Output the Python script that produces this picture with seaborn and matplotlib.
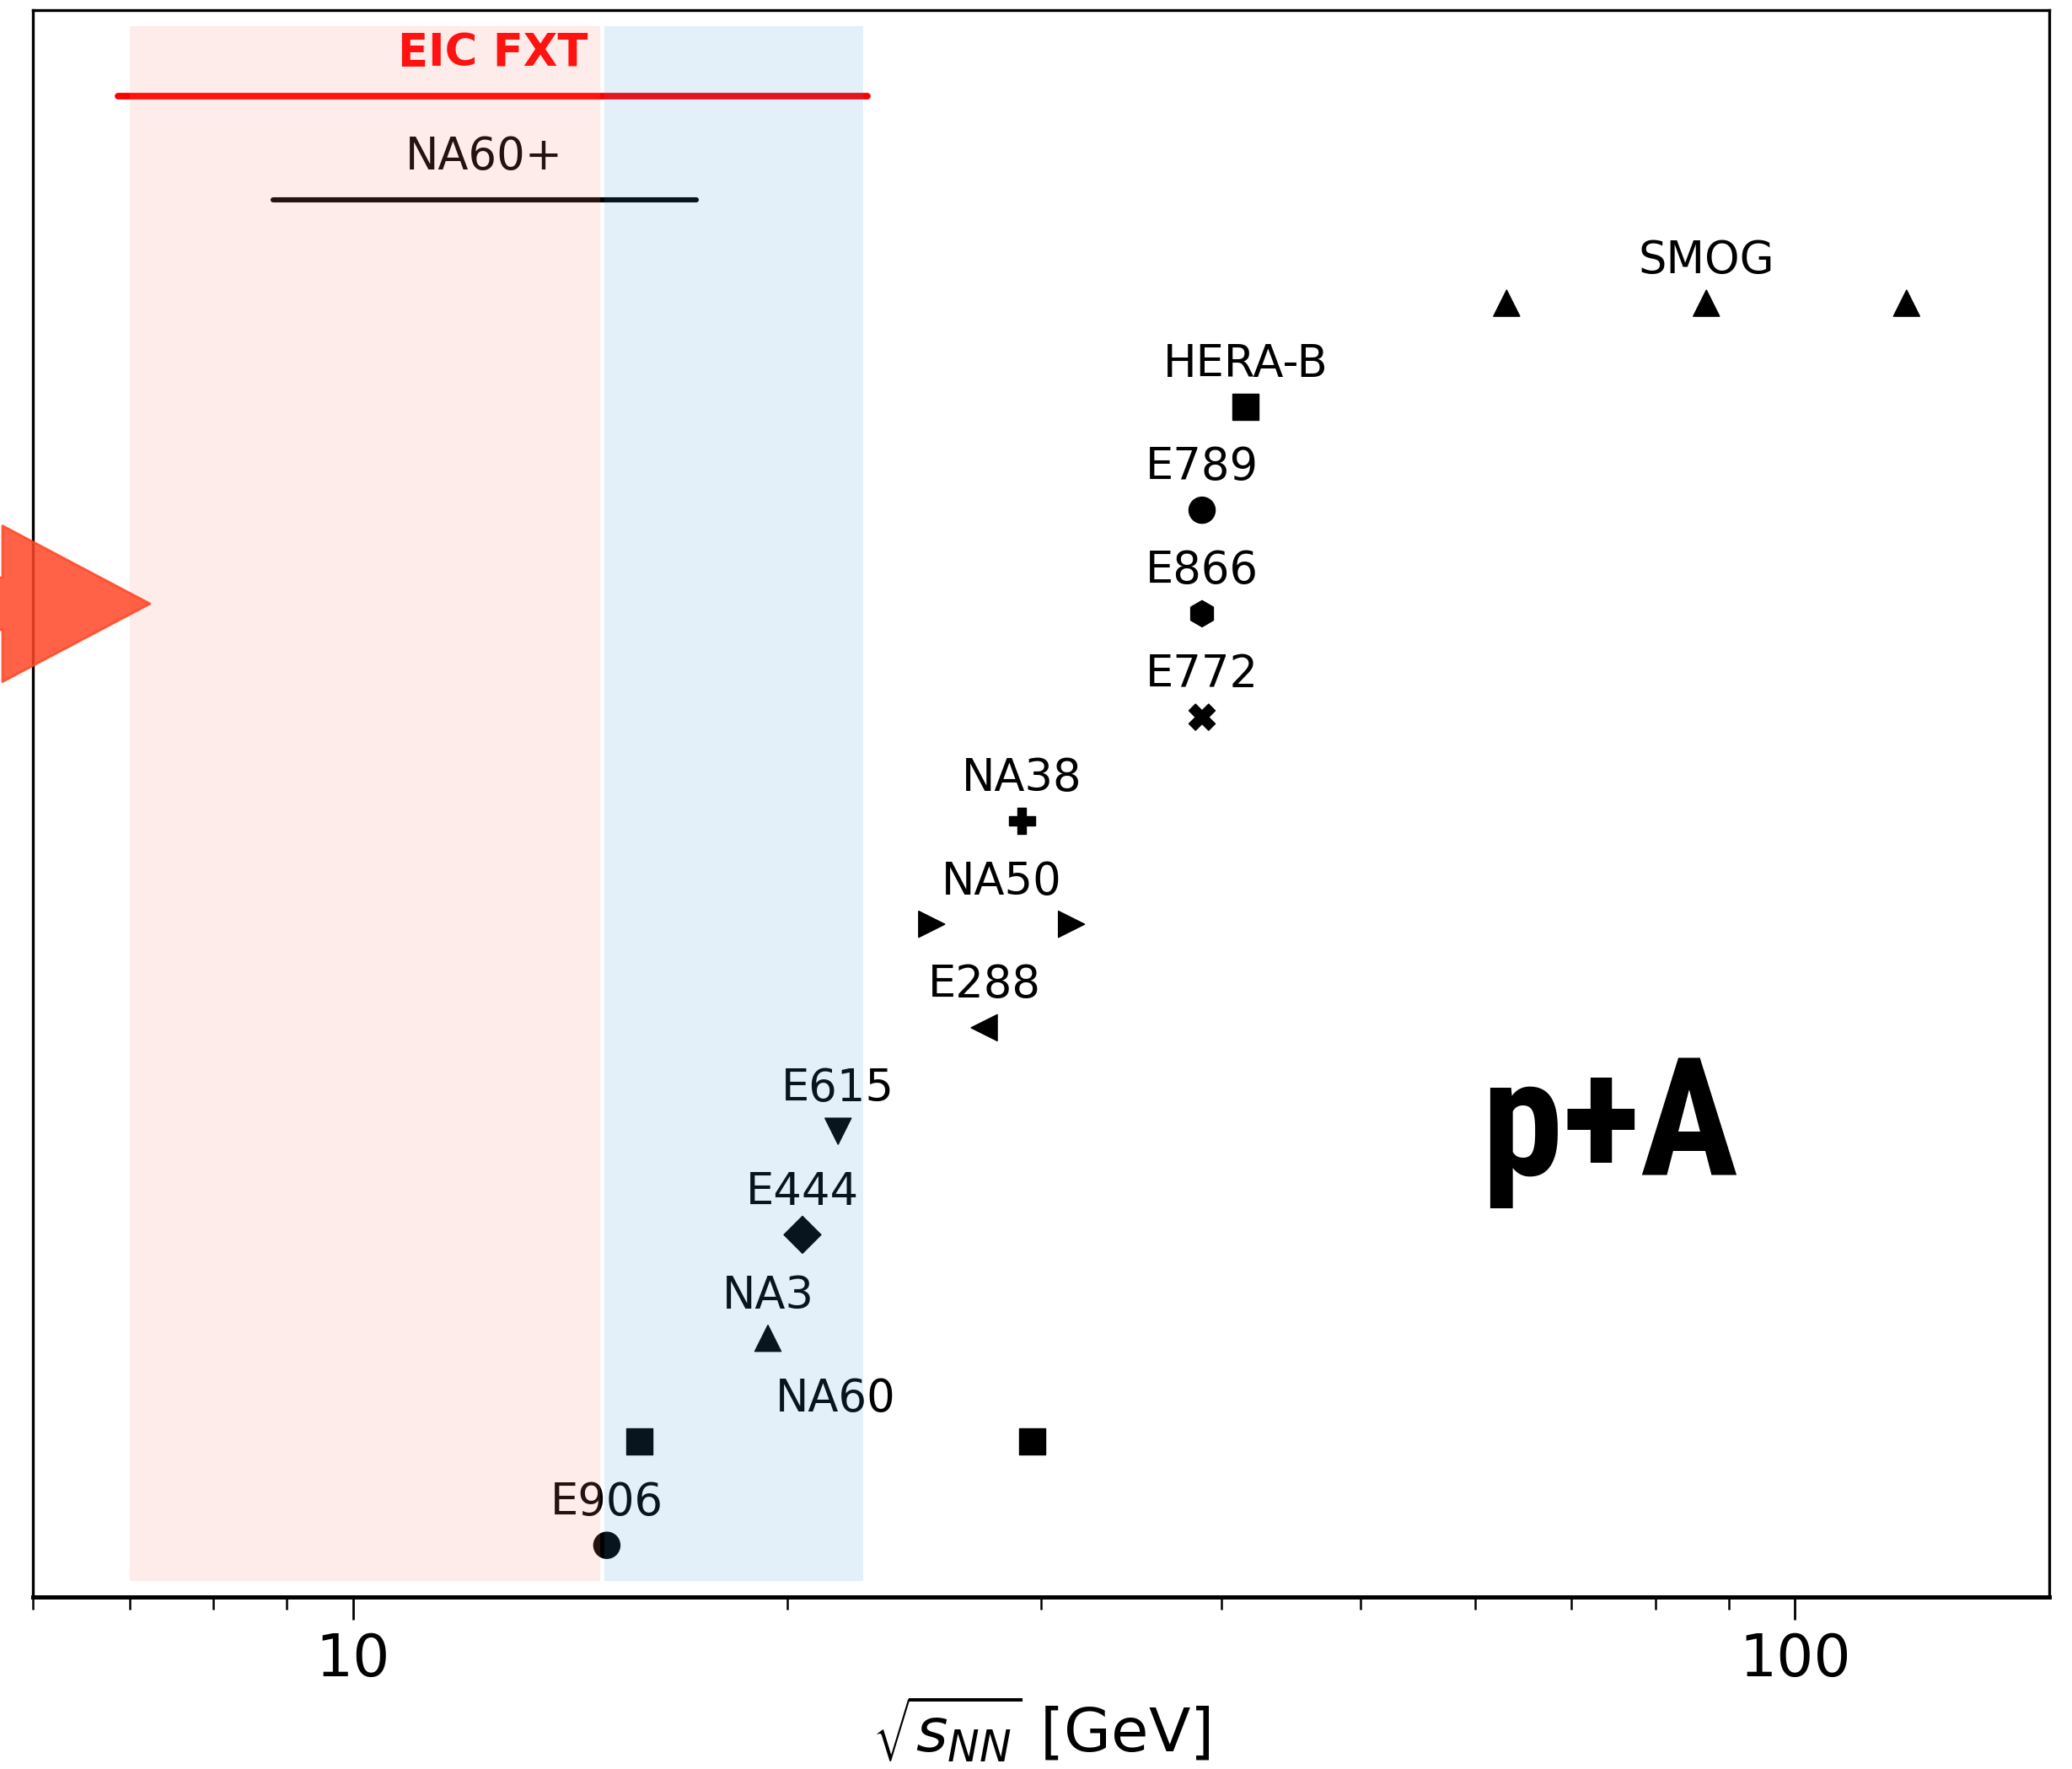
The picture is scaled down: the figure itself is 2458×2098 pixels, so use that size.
import numpy as np
import pandas as pd
import seaborn as sns
import matplotlib.pyplot as plt
from matplotlib.patches import FancyArrow

# fixed-target experiments, from bottom to top of the chart
experiments = ['E906', 'NA60', 'NA3', 'E444', 'E615', 'E288', 'NA50',
               'NA38', 'E772', 'E866', 'E789', 'HERA-B', 'SMOG']
# sqrt(s_NN) in GeV
energies = [[15.0], [15.8, 29.6], [19.4], [20.5], [21.7], [27.4], [25.2, 31.5],
            [29.1], [38.8], [38.8], [38.8], [41.6], [63.1, 86.8, 119.5]]
markers = ['o', 's', '^', 'D', 'v', '<', '>', 'P', 'X', 'h', 'o', 's', '^']

# future facilities drawn as ranges
facilities = ['NA60+', 'EIC FXT']
fac_lo = [8.8, 6.87]
fac_hi = [17.3, 22.75]
fac_colors = ['black', 'red']

# shaded energy bands
band_lo = [7.0, 14.95]
band_hi = [14.85, 22.6]
band_colors = ['salmon', '#3a9ad9']
band_alpha = [0.15, 0.14]

rows = []
for i, (name, ens) in enumerate(zip(experiments, energies)):
    for e in ens:
        rows.append({'exp': name, 'sqrts': e, 'pos': i})
df = pd.DataFrame(rows)

sns.set_theme(style='ticks', rc={'axes.edgecolor': 'black', 'xtick.color': 'black',
                                 'text.color': 'black', 'axes.labelcolor': 'black'})
plt.rcParams['font.family'] = ['DejaVu Sans']
plt.rcParams['mathtext.fontset'] = 'dejavusans'

fig = plt.figure(figsize=(12.29, 10.49), dpi=200)
ax = fig.add_axes([0.0159, 0.0972, 0.973, 0.897])

sns.scatterplot(data=df, x='sqrts', y='pos', style='exp',
                markers=dict(zip(experiments, markers)), color='black',
                edgecolor='black', linewidth=0.5, s=125, legend=False, ax=ax, zorder=3)

for i, (name, ens) in enumerate(zip(experiments, energies)):
    xc = np.exp(np.mean(np.log(ens)))
    ax.text(xc, i + 0.29, name, ha='center', va='baseline', fontsize=19)

for j, (name, lo, hi, c) in enumerate(zip(facilities, fac_lo, fac_hi, fac_colors)):
    y = len(experiments) + j
    ax.plot([lo, hi], [y, y], color=c, lw=2.8 if c == 'red' else 2.2, zorder=2)
    ax.text(np.sqrt(lo * hi), y + 0.29, name, color=c, ha='center', va='baseline',
            fontsize=19, fontweight='bold' if c == 'red' else 'normal')

for lo, hi, c, a in zip(band_lo, band_hi, band_colors, band_alpha):
    ax.axvspan(lo, hi, ymin=0.01, ymax=0.99, color=c, alpha=a, lw=0, zorder=4)

ax.text(74.4, 3.58, 'p+A', fontsize=70, fontweight='bold', fontstretch='condensed',
        family=['Roboto Condensed', 'DejaVu Sans Condensed', 'DejaVu Sans'],
        ha='center', va='baseline')

ax.set_xscale('log')
ax.set_xlim(6, 150)
ax.set_ylim(-0.5, 14.83)
ax.set_yticks([])
ax.set_ylabel('')
ax.set_xticks([10, 100])
ax.set_xticklabels(['10', '100'])
ax.tick_params(axis='x', which='major', length=9.7, width=1.0, labelsize=25, pad=5, direction='out')
ax.tick_params(axis='x', which='minor', length=5.4, width=0.9, direction='out')
ax.set_xlabel(r'$\sqrt{s_{NN}}$ [GeV]', fontsize=26, labelpad=3)
for side in ['left', 'right', 'top']:
    ax.spines[side].set_linewidth(1.2)
ax.spines['bottom'].set_linewidth(1.8)

# arrow on the left edge, tail cut off by the figure border
fig.add_artist(FancyArrow(-0.05, 0.6587, 0.1224, 0, width=0.0296, head_width=0.0882,
                          head_length=0.0712, length_includes_head=True,
                          transform=fig.transFigure, color='#ff4726', alpha=0.85,
                          lw=1, joinstyle='round', zorder=10))

fig.savefig('out.png', dpi=200)
